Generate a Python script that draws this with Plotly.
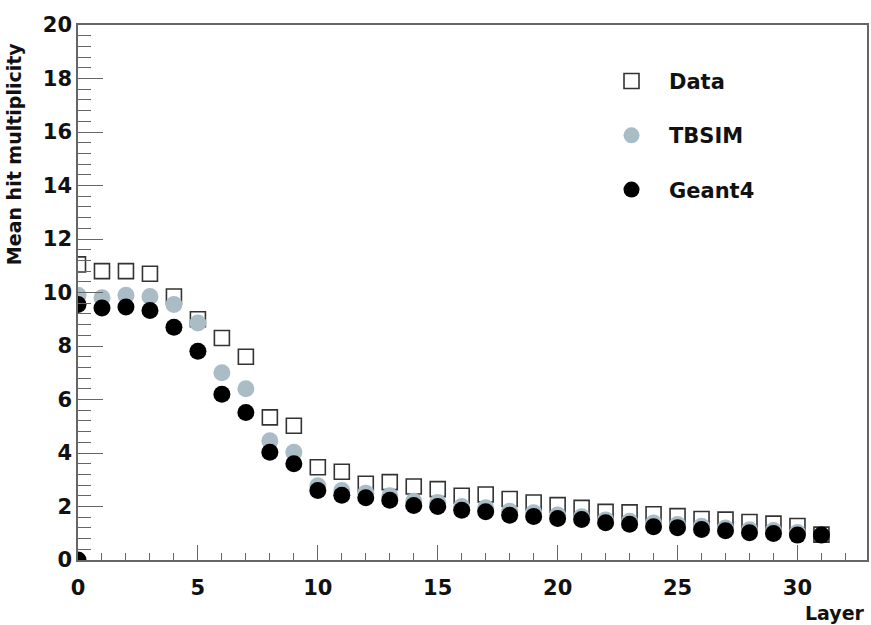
import plotly.graph_objects as go

layers = list(range(32))
data_vals = [11.05, 10.8, 10.8, 10.7, 9.85, 9.0, 8.3, 7.6, 5.33, 5.02,
             3.47, 3.3, 2.85, 2.91, 2.75, 2.65, 2.4, 2.45, 2.28, 2.15,
             2.05, 1.95, 1.8, 1.78, 1.71, 1.64, 1.53, 1.51, 1.42, 1.36,
             1.27, 0.95]
tbsim_layers = list(range(31))
tbsim_vals = [9.9, 9.8, 9.9, 9.85, 9.55, 8.86, 7.0, 6.4, 4.46, 4.03,
              2.78, 2.6, 2.5, 2.4, 2.2, 2.15, 2.0, 1.95, 1.82, 1.77,
              1.68, 1.62, 1.5, 1.45, 1.38, 1.33, 1.26, 1.2, 1.13, 1.1,
              1.03]
g4_layers = [0] + list(range(32))
g4_vals = [0.0, 9.55, 9.42, 9.46, 9.33, 8.7, 7.8, 6.2, 5.51, 4.03, 3.6,
           2.6, 2.42, 2.33, 2.23, 2.04, 2.0, 1.86, 1.8, 1.67, 1.63,
           1.55, 1.51, 1.39, 1.34, 1.24, 1.21, 1.14, 1.09, 1.02, 0.99,
           0.93, 0.93]

FONT = "DejaVu Sans"

fig = go.Figure()
fig.add_trace(go.Scatter(x=layers, y=data_vals, mode="markers", name="Data",
                         legendgroup="a",
                         marker=dict(symbol="square-open", size=15,
                                     color="#333333", line=dict(width=1.6, color="#333333"))))
fig.add_trace(go.Scatter(x=tbsim_layers, y=tbsim_vals, mode="markers", name="TBSIM",
                         legendgroup="b",
                         marker=dict(symbol="circle", size=17, color="#aabcc6")))
fig.add_trace(go.Scatter(x=g4_layers, y=g4_vals, mode="markers", name="Geant4",
                         legendgroup="c",
                         marker=dict(symbol="circle", size=17, color="#000000")))

axis_col = "#666666"
fig.update_layout(
    width=871, height=625,
    margin=dict(l=78, r=2, t=25, b=65),
    paper_bgcolor="white", plot_bgcolor="white",
    showlegend=True,
    legend=dict(x=0.654, y=0.933, xanchor="left", yanchor="top",
                itemwidth=65,
                font=dict(family=FONT, size=21, color="#111111", weight="bold"),
                tracegroupgap=24, bgcolor="rgba(0,0,0,0)"),
    xaxis=dict(range=[0, 32.9], showgrid=False, zeroline=False,
               showline=True, linecolor=axis_col, linewidth=1.5, mirror=True,
               ticks="inside", ticklen=15, tickwidth=1, tickcolor=axis_col,
               tick0=0, dtick=5, ticklabelstandoff=8,
               minor=dict(ticks="inside", ticklen=7, dtick=1, tickcolor=axis_col, showgrid=False),
               tickfont=dict(family=FONT, size=21, color="#111111", weight="bold")),
    yaxis=dict(range=[0, 20], showgrid=False, zeroline=False,
               showline=True, linecolor=axis_col, linewidth=1.5, mirror=True,
               ticks="inside", ticklen=25, tickwidth=1, tickcolor=axis_col,
               tick0=0, dtick=2,
               minor=dict(ticks="inside", ticklen=13, dtick=0.4, tickcolor=axis_col, showgrid=False),
               tickfont=dict(family=FONT, size=21, color="#111111", weight="bold")),
    annotations=[
        dict(text="Mean hit multiplicity", xref="paper", yref="paper",
             x=-0.081, y=0.97, xanchor="center", yanchor="top", textangle=-90,
             showarrow=False,
             font=dict(family=FONT, size=19, color="#111111", weight="bold")),
        dict(text="Layer", xref="paper", yref="paper",
             x=1.0, y=-0.075, xanchor="right", yanchor="top", showarrow=False,
             font=dict(family=FONT, size=19, color="#111111", weight="bold")),
    ],
)

fig.write_html("out.html")
